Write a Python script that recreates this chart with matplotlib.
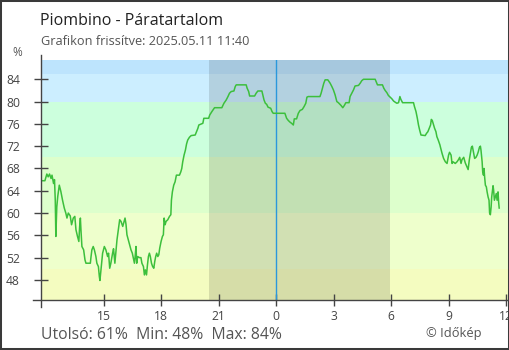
import matplotlib
matplotlib.use("Agg")
import matplotlib.pyplot as plt
from matplotlib.lines import Line2D
from matplotlib.patches import Rectangle

# ---- data (hours relative to midnight, humidity %) ----
hours = [
    -12.29, -12.07, -11.97, -11.90, -11.83, -11.75, -11.70, -11.65, -11.62, -11.57,
    -11.53, -11.50, -11.45, -11.40, -11.32, -11.24, -11.15, -11.06, -10.98, -10.92,
    -10.85, -10.75, -10.68, -10.59, -10.51, -10.45, -10.37, -10.30, -10.26, -10.22,
    -10.19, -10.14, -10.05, -9.98, -9.93, -9.70, -9.67, -9.62, -9.55, -9.49,
    -9.41, -9.36, -9.28, -9.23, -9.20, -9.15, -9.06, -8.97, -8.89, -8.80,
    -8.75, -8.69, -8.63, -8.54, -8.49, -8.42, -8.36, -8.31, -8.24, -8.17,
    -8.10, -8.01, -7.96, -7.89, -7.84, -7.79, -7.72, -7.65, -7.58, -7.51,
    -7.44, -7.40, -7.37, -7.32, -7.28, -7.23, -7.14, -7.06, -7.01, -6.93,
    -6.88, -6.83, -6.77, -6.72, -6.67, -6.62, -6.57, -6.51, -6.45, -6.39,
    -6.34, -6.29, -6.24, -6.18, -6.13, -6.08, -6.01, -5.94, -5.89, -5.85,
    -5.80, -5.75, -5.66, -5.57, -5.50, -5.47, -5.42, -5.35, -5.28, -5.21,
    -5.05, -4.98, -4.93, -4.88, -4.81, -4.74, -4.68, -4.62, -4.53, -4.44,
    -4.23, -4.16, -4.09, -4.04, -3.83, -3.78, -3.53, -3.47, -3.36, -3.22,
    -2.84, -2.73, -2.61, -2.52, -2.44, -2.35, -2.21, -2.14, -2.09, -1.57,
    -1.52, -1.44, -1.39, -1.13, -1.05, -0.96, -0.75, -0.70, -0.64, -0.57,
    -0.50, -0.43, -0.29, -0.22, -0.16, 0.45, 0.54, 0.63, 0.72, 0.80,
    0.89, 0.94, 1.06, 1.15, 1.24, 1.36, 1.45, 1.54, 1.60, 1.67,
    2.28, 2.34, 2.41, 2.48, 2.55, 2.69, 2.81, 2.90, 2.98, 3.07,
    3.16, 3.24, 3.38, 3.47, 3.55, 3.63, 3.80, 3.85, 3.94, 4.03,
    4.11, 4.29, 4.38, 4.46, 4.55, 5.16, 5.21, 5.28, 5.54, 5.61,
    5.68, 5.77, 5.85, 5.94, 6.03, 6.12, 6.20, 6.29, 6.38, 6.45,
    6.50, 6.59, 7.16, 7.21, 7.29, 7.36, 7.42, 7.48, 7.55, 7.77,
    7.84, 7.91, 7.98, 8.05, 8.09, 8.14, 8.19, 8.26, 8.33, 8.38,
    8.45, 8.54, 8.56, 8.65, 8.73, 8.82, 8.91, 8.99, 9.04, 9.12,
    9.17, 9.22, 9.34, 9.43, 9.51, 9.57, 9.64, 9.69, 9.78, 9.86,
    9.95, 10.01, 10.07, 10.13, 10.18, 10.23, 10.30, 10.35, 10.42, 10.48,
    10.54, 10.60, 10.65, 10.68, 10.74, 10.77, 10.81, 10.84, 10.87, 10.91,
    10.96, 11.00, 11.05, 11.10, 11.13, 11.17, 11.21, 11.24, 11.28, 11.31,
    11.34, 11.38, 11.43, 11.48, 11.52, 11.57, 11.60, 11.63,
]
humidity = [
    65.8, 65.8, 67.0, 66.5, 67.0, 66.2, 66.8, 65.8, 65.3, 66.0,
    62.3, 55.8, 61.1, 63.0, 65.0, 63.9, 62.3, 60.9, 60.0, 59.1,
    60.0, 59.5, 57.9, 59.1, 59.4, 57.0, 55.8, 54.9, 57.5, 59.1,
    57.0, 54.0, 53.4, 51.6, 51.0, 51.0, 52.0, 53.4, 54.0, 53.4,
    52.2, 51.0, 50.4, 48.6, 47.9, 49.7, 52.8, 54.0, 53.4, 52.2,
    52.8, 50.1, 51.0, 52.8, 53.6, 51.0, 53.4, 55.2, 57.0, 58.8,
    58.5, 57.6, 58.2, 59.1, 58.0, 56.1, 55.2, 54.3, 53.4, 52.8,
    51.6, 51.0, 51.9, 54.0, 51.0, 52.2, 52.0, 52.0, 51.0, 50.4,
    48.9, 49.8, 48.9, 50.7, 52.2, 52.8, 52.2, 51.0, 50.4, 50.1,
    51.3, 52.2, 52.8, 52.2, 52.5, 53.7, 54.9, 55.8, 56.1, 59.1,
    57.9, 58.5, 58.8, 59.4, 59.7, 62.3, 63.8, 65.0, 65.6, 66.8,
    66.8, 67.4, 68.0, 69.2, 70.4, 71.3, 72.4, 73.1, 73.6, 73.9,
    74.0, 74.6, 75.2, 75.8, 76.1, 77.0, 77.0, 77.6, 78.2, 78.9,
    78.9, 79.7, 80.3, 80.9, 81.5, 81.8, 81.9, 82.7, 83.0, 83.0,
    82.4, 81.8, 81.0, 81.0, 81.5, 81.9, 81.9, 81.2, 80.3, 79.7,
    79.5, 79.0, 78.8, 78.2, 77.9, 77.9, 77.0, 76.6, 76.3, 76.1,
    75.8, 76.9, 76.9, 77.9, 78.4, 78.6, 79.1, 79.7, 80.8, 80.9,
    80.9, 81.5, 82.4, 83.3, 83.9, 83.9, 83.3, 82.7, 82.1, 81.2,
    80.0, 79.8, 79.3, 78.9, 79.3, 79.8, 79.8, 80.9, 81.5, 82.1,
    82.8, 82.9, 83.3, 83.75, 84.0, 84.0, 83.6, 83.0, 83.0, 82.4,
    82.0, 81.6, 81.1, 80.8, 80.5, 80.1, 79.9, 79.7, 79.8, 80.9,
    80.4, 79.8, 79.8, 79.1, 78.2, 77.0, 75.8, 74.9, 74.0, 73.9,
    74.3, 74.6, 75.2, 75.8, 76.8, 76.6, 76.0, 75.2, 74.6, 73.7,
    73.1, 72.2, 71.9, 70.7, 69.8, 69.2, 68.9, 70.4, 70.9, 70.4,
    68.9, 69.2, 68.9, 69.2, 69.6, 70.0, 68.9, 69.6, 70.0, 69.0,
    68.3, 67.8, 69.5, 70.7, 71.8, 72.0, 70.7, 69.8, 70.0, 70.4,
    71.0, 71.8, 72.0, 71.3, 69.2, 67.4, 66.8, 68.0, 66.5, 65.0,
    64.7, 63.8, 62.9, 62.3, 60.0, 59.7, 61.1, 62.9, 64.1, 64.9,
    64.1, 62.3, 62.9, 63.5, 62.3, 63.8, 62.0, 60.9,
]

band_edges = [0, 50, 60, 70, 80, 85, 100]
band_colors = ["#f4fcc0", "#eeffcc", "#ddffcc", "#ccffdd", "#cceeff", "#bde4fd"]
y_ticks = [48, 52, 56, 60, 64, 68, 72, 76, 80, 84]
x_ticks = [-9, -6, -3, 0, 3, 6, 9, 12]
x_tick_labels = ["15", "18", "21", "0", "3", "6", "9", "12"]
night_start, night_end = -3.51, 5.93

title = "Piombino - Páratartalom"
subtitle = "Grafikon frissítve: 2025.05.11 11:40"
footer = "Utolsó: 61%  Min: 48%  Max: 84%"
credit = "© Időkép"

plt.rcParams["font.family"] = ["Open Sans", "DejaVu Sans"]

W, H = 510, 350
fig = plt.figure(figsize=(W / 100, H / 100), dpi=100)

def fx(px):
    return px / W

def fy(py):
    return 1 - py / H

left_px, right_px, top_px, bot_px = 40.7, 508, 60, 300
ax = fig.add_axes([fx(left_px), fy(bot_px), fx(right_px) - fx(left_px), fy(top_px) - fy(bot_px)])
ax.set_xlim(-12.29, 12.09)
ax.set_ylim(44.4, 87.46)

for lo, hi, c in zip(band_edges[:-1], band_edges[1:], band_colors):
    ax.axhspan(lo, hi, color=c, lw=0, zorder=0)
ax.axvspan(night_start, night_end, color="black", alpha=0.12, lw=0, zorder=1)
ax.axvline(0, color="#2a98dc", lw=1.0, zorder=2)

ax.plot(hours, humidity, color="#3cbf3c", lw=1.1, zorder=3)

for s in ax.spines.values():
    s.set_visible(False)

ax.set_yticks(y_ticks)
ax.set_xticks(x_ticks)
ax.set_xticklabels(x_tick_labels)
ax.tick_params(axis="y", direction="inout", length=9.6, width=1.0, color="#444444",
               labelsize=8.7, labelcolor="#444444", pad=10.1)
ax.tick_params(axis="x", direction="inout", length=8.6, width=1.0, color="#444444",
               labelsize=8.7, labelcolor="#444444", pad=3.2)

# axis lines extending beyond plot area
fig.add_artist(Line2D([fx(left_px), fx(left_px)], [fy(55), fy(307)], color="#444444", lw=1.0))
fig.add_artist(Line2D([fx(33), fx(510)], [fy(bot_px), fy(bot_px)], color="#444444", lw=1.0))

fig.text(fx(40), fy(25), title, fontsize=11.5, color="#222222", va="baseline", ha="left")
fig.text(fx(40.7), fy(45), subtitle, fontsize=9.2, color="#555555", va="baseline", ha="left")
fig.text(fx(12.5), fy(56), "%", fontsize=8.5, color="#555555", va="baseline", ha="left")
fig.text(fx(40.7), fy(339), footer, fontsize=11.3, color="#555555", va="baseline", ha="left")
fig.text(fx(482), fy(337), credit, fontsize=9.3, color="#555555", va="baseline", ha="right")

fig.add_artist(Rectangle((0, 0), 1, 1, transform=fig.transFigure, fill=False,
                         edgecolor="#3a3a3a", lw=2.9))

fig.savefig("out.png", dpi=100)
